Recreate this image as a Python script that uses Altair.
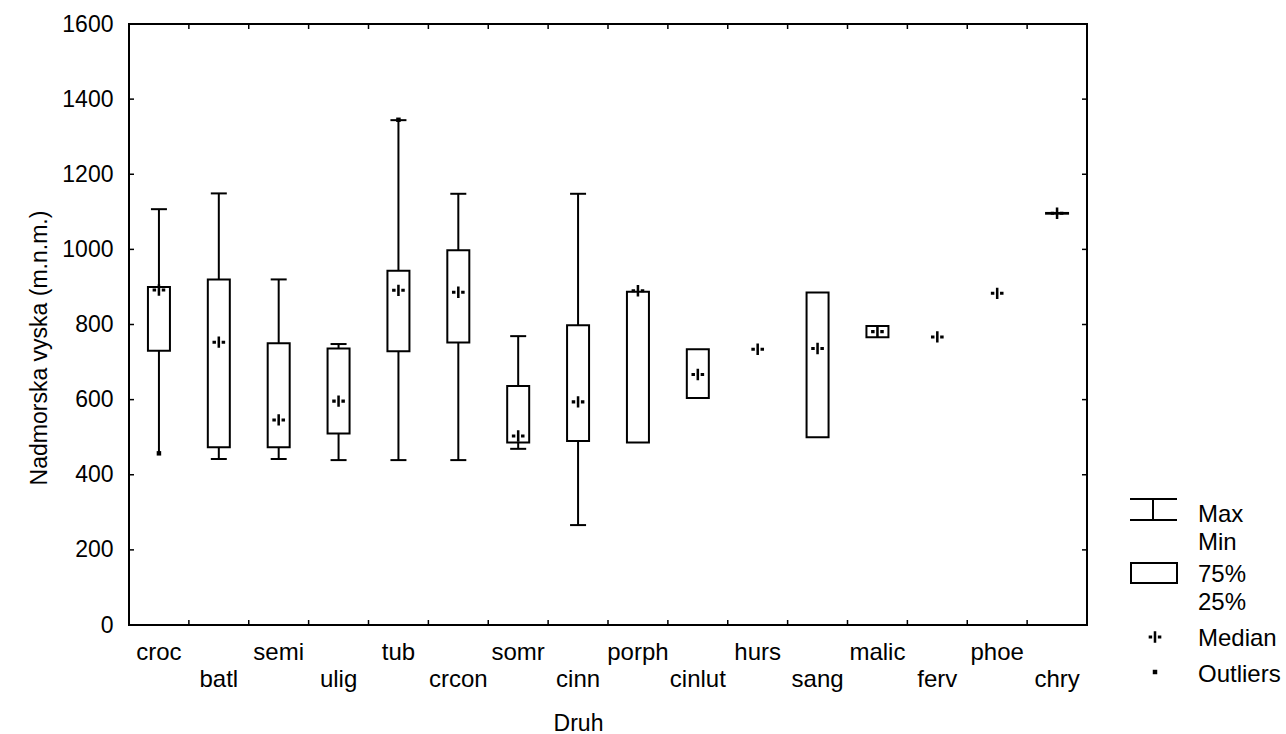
import altair as alt
import pandas as pd

# ---- data ----
species = ["croc", "batl", "semi", "ulig", "tub", "crcon", "somr", "cinn",
           "porph", "cinlut", "hurs", "sang", "malic", "ferv", "phoe", "chry"]
median = [892, 753, 546, 596, 891, 886, 503, 594, 890, 667, 734, 736, 781, 767, 883, 1096]
q25 = [730, 473, 473, 510, 729, 752, 486, 490, 486, 604, None, 500, 766, None, None, 1095]
q75 = [900, 920, 750, 736, 943, 998, 636, 798, 887, 734, None, 885, 796, None, None, 1097]
w_min = [457, 442, 442, 439, 439, 439, 469, 266, None, None, None, None, None, None, None, None]
w_max = [1107, 1149, 920, 748, 1344, 1148, 769, 1148, None, None, None, None, None, None, None, None]
cap_min = [None, 442, 442, 439, 439, 439, 469, 266, None, None, None, None, None, None, None, None]
out_species = ["croc", "tub"]
out_values = [457, 1345]
y_ticks = [0, 200, 400, 600, 800, 1000, 1200, 1400, 1600]
legend_labels = ["Max", "Min", "75%", "25%", "Median", "Outliers"]

FONT = "Liberation Sans"
W, H = 958, 601

df = pd.DataFrame({"cat": species, "median": median, "q25": q25, "q75": q75,
                   "w_min": w_min, "w_max": w_max, "cap_min": cap_min})
df["idx"] = range(len(df))
df_out = pd.DataFrame({"cat": out_species, "val": out_values})
df_yt = pd.DataFrame({"v": y_ticks})

xscale = alt.Scale(type="band", domain=species, paddingInner=0, paddingOuter=0)
xaxis = alt.Axis(labels=False, ticks=False, domain=False, grid=False, title="Druh",
                 titleFont=FONT, titleFontSize=23, titleFontWeight="normal", titleColor="black",
                 titleX=449, titleY=105, titleAlign="center", titleBaseline="alphabetic")
yscale = alt.Scale(domain=[0, 1600], nice=False, zero=False)
YT = "Nadmorska vyska (m.n.m.)"
yaxis = alt.Axis(values=y_ticks, format="d", ticks=False, tickSize=0, domain=False, grid=False,
                 labelFont=FONT, labelFontSize=23, labelColor="black", labelPadding=16,
                 labelBaseline="middle", labelFlush=False, labelOverlap=False,
                 title=YT, titleFont=FONT, titleFontSize=23, titleFontWeight="normal",
                 titleColor="black", titleAngle=270, titleX=-83, titleY=323.5,
                 titleAlign="center", titleBaseline="alphabetic")


def X():
    return alt.X("cat:N", scale=xscale, axis=xaxis, sort=species)


def Y(f):
    return alt.Y(f"{f}:Q", scale=yscale, axis=yaxis, title=YT)


base = alt.Chart(df)

whisk = base.mark_rule(color="black", strokeWidth=2).encode(
    x=X(), y=Y("w_min"), y2="w_max").transform_filter("isValid(datum.w_min)")
cap_top = base.mark_tick(color="black", size=16, thickness=2, opacity=1).encode(
    x=X(), y=Y("w_max")).transform_filter("isValid(datum.w_max)")
cap_bot = base.mark_tick(color="black", size=16, thickness=2, opacity=1).encode(
    x=X(), y=Y("cap_min")).transform_filter("isValid(datum.cap_min)")
box = base.mark_bar(width=22, fill="white", stroke="black", strokeWidth=2, opacity=1).encode(
    x=X(), y=Y("q25"), y2="q75").transform_filter("isValid(datum.q25)")

MED_SHAPE = ("M-1,-0.24H-0.45V0.24H-1Z M0.45,-0.24H1V0.24H0.45Z "
             "M-0.2,-0.9H0.2V0.9H-0.2Z")
med = base.mark_point(shape=MED_SHAPE, size=160, filled=True, color="black",
                      opacity=1, strokeWidth=0).encode(x=X(), y=Y("median"))

outl = alt.Chart(df_out).mark_point(shape="square", size=20, filled=True, color="black",
                                    opacity=1).encode(x=X(), y=Y("val"))

# inward frame ticks
yt = alt.Chart(df_yt)
yt_left = yt.mark_rule(color="black", strokeWidth=1.5).encode(
    y=Y("v"), x=alt.value(0), x2=alt.value(5))
yt_right = yt.mark_rule(color="black", strokeWidth=1.5).encode(
    y=Y("v"), x=alt.value(W - 5), x2=alt.value(W))
xt_bot = base.mark_rule(color="black", strokeWidth=1.5).encode(
    x=alt.X("cat:N", scale=xscale, axis=xaxis, sort=species, bandPosition=0),
    y=alt.value(H), y2=alt.value(H - 5)).transform_filter("datum.idx > 0")
xt_top = base.mark_rule(color="black", strokeWidth=1.5).encode(
    x=alt.X("cat:N", scale=xscale, axis=xaxis, sort=species, bandPosition=0),
    y=alt.value(0), y2=alt.value(5)).transform_filter("datum.idx > 0")

# category labels in two staggered rows
lab1 = base.mark_text(font=FONT, fontSize=24, color="black", baseline="alphabetic").encode(
    x=X(), y=alt.value(636), text="cat:N").transform_filter("datum.idx % 2 == 0")
lab2 = base.mark_text(font=FONT, fontSize=24, color="black", baseline="alphabetic").encode(
    x=X(), y=alt.value(663), text="cat:N").transform_filter("datum.idx % 2 == 1")

# legend (drawn outside plot area)
one = alt.Data(values=[{"k": 0}])
leg = []
leg.append(alt.Chart(one).mark_rule(color="black", strokeWidth=2).encode(
    x=alt.value(1001), x2=alt.value(1048), y=alt.value(475)))
leg.append(alt.Chart(one).mark_rule(color="black", strokeWidth=2).encode(
    x=alt.value(1001), x2=alt.value(1048), y=alt.value(496)))
leg.append(alt.Chart(one).mark_rule(color="black", strokeWidth=2).encode(
    x=alt.value(1024), y=alt.value(475), y2=alt.value(496)))
leg.append(alt.Chart(one).mark_rect(fill="white", stroke="black", strokeWidth=2).encode(
    x=alt.value(1002), x2=alt.value(1048), y=alt.value(539), y2=alt.value(559)))
leg.append(alt.Chart(one).mark_point(shape=MED_SHAPE, size=160, filled=True, color="black",
                                     opacity=1, strokeWidth=0).encode(
    x=alt.value(1026), y=alt.value(613)))
leg.append(alt.Chart(one).mark_point(shape="square", size=20, filled=True, color="black",
                                     opacity=1).encode(x=alt.value(1026), y=alt.value(648)))
leg_y = [498, 526, 558, 586, 622, 658]
for lbl, yy in zip(legend_labels, leg_y):
    leg.append(alt.Chart(one).mark_text(text=lbl, font=FONT, fontSize=24, color="black",
                                        align="left", baseline="alphabetic").encode(
        x=alt.value(1069), y=alt.value(yy)))

chart = alt.layer(whisk, cap_top, cap_bot, box, med, outl,
                  yt_left, yt_right, xt_bot, xt_top, lab1, lab2, *leg).properties(
    width=W, height=H,
    autosize=alt.AutoSizeParams(type="none"),
    padding={"left": 129, "top": 24, "right": 1286 - 129 - W, "bottom": 734 - 24 - H},
    background="white",
).configure_view(stroke="black", strokeWidth=2)

chart.save("out.html", embed_options={"renderer": "svg", "actions": False})
